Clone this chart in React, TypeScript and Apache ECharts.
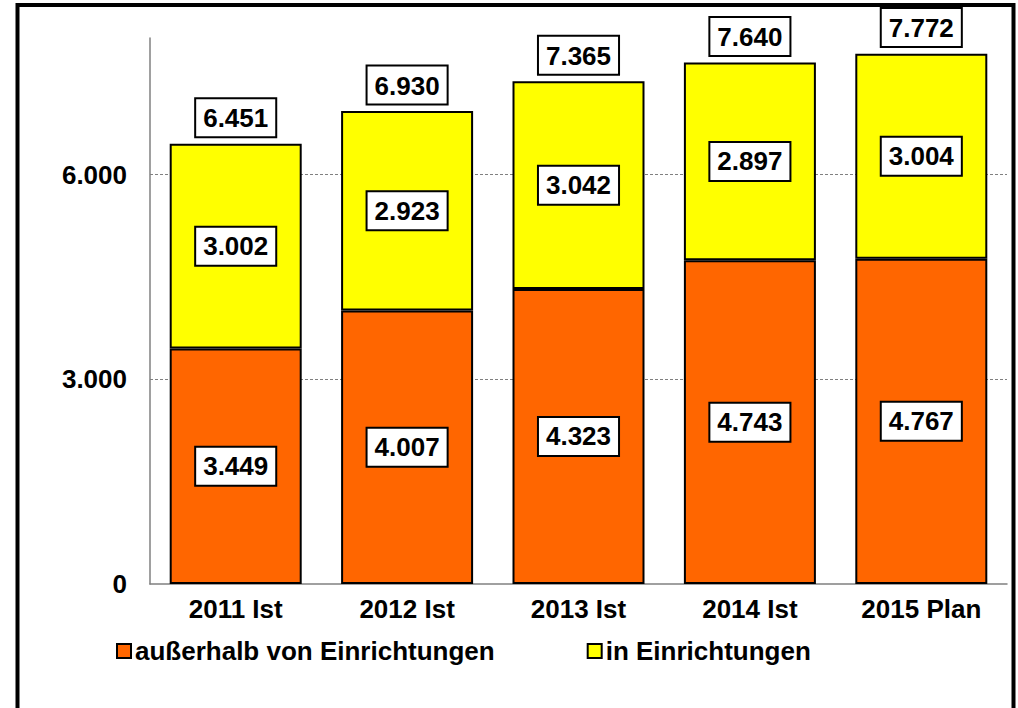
import React, { useEffect, useRef } from "react";
import * as echarts from "echarts";

const categories = ["2011 Ist", "2012 Ist", "2013 Ist", "2014 Ist", "2015 Plan"];
const ausserhalb = [3449, 4007, 4323, 4743, 4767];
const inEinrichtungen = [3002, 2923, 3042, 2897, 3004];
const totals = [6451, 6930, 7365, 7640, 7772];
const gridValues = [3000, 6000];

const FONT = "'Liberation Sans', Arial, sans-serif";
const FS = 26;

function fmt(v: number): string {
  if (v < 1000) return String(v);
  const th = Math.floor(v / 1000);
  const rest = String(v % 1000).padStart(3, "0");
  return th + "." + rest;
}

const boxLabel = {
  show: true,
  fontFamily: FONT,
  fontWeight: "bold" as const,
  fontSize: FS,
  color: "#000",
  backgroundColor: "#fff",
  borderColor: "#000",
  borderWidth: 2,
  padding: [6, 7, 5, 7],
  lineHeight: 26,
  formatter: (p: any) => fmt(p.value),
};

export default function App() {
  const ref = useRef<HTMLDivElement>(null);
  useEffect(() => {
    if (!ref.current) return;
    const chart = echarts.init(ref.current, null, { renderer: "svg" });
    chart.setOption({
      animation: false,
      backgroundColor: "#fff",
      textStyle: { fontFamily: FONT },
      grid: { left: 150, right: 11, top: 38, bottom: 124, containLabel: false },
      xAxis: {
        type: "category",
        data: categories,
        axisLine: { show: true, lineStyle: { color: "#808080", width: 1.5 } },
        axisTick: { show: false },
        axisLabel: {
          fontFamily: FONT,
          fontWeight: "bold",
          fontSize: FS,
          color: "#000",
          margin: 12,
          interval: 0,
        },
      },
      yAxis: {
        type: "value",
        min: 0,
        max: 8000,
        interval: 3000,
        axisLine: { show: true, lineStyle: { color: "#808080", width: 1.5 } },
        axisTick: { show: false },
        splitLine: { show: false },
        axisLabel: {
          fontFamily: FONT,
          fontWeight: "bold",
          fontSize: FS,
          color: "#000",
          margin: 23,
          formatter: (v: number) => (v === 8000 ? "" : fmt(v)),
        },
      },
      legend: {
        data: ["außerhalb von Einrichtungen", "in Einrichtungen"],
        bottom: 39,
        left: 111,
        icon: "rect",
        itemWidth: 14,
        itemHeight: 14,
        itemGap: 92,
        itemStyle: { borderColor: "#000", borderWidth: 2 },
        textStyle: { fontFamily: FONT, fontWeight: "bold", fontSize: FS, color: "#000", padding: [0, 0, 0, -1] },
      },
      series: [
        {
          name: "außerhalb von Einrichtungen",
          type: "bar",
          stack: "s",
          data: ausserhalb,
          barWidth: 132,
          itemStyle: { color: "#FF6600", borderColor: "#000", borderWidth: 2 },
          label: { ...boxLabel, position: "inside" },
          markLine: {
            silent: true,
            symbol: "none",
            z: 1,
            label: { show: false },
            lineStyle: { color: "#808080", width: 1.2, type: [3, 2] },
            data: gridValues.map((v) => ({ yAxis: v })),
          },
        },
        {
          name: "in Einrichtungen",
          type: "bar",
          stack: "s",
          data: inEinrichtungen,
          barWidth: 132,
          itemStyle: { color: "#FFFF00", borderColor: "#000", borderWidth: 2 },
          label: { ...boxLabel, position: "inside" },
        },
        {
          name: "Summe",
          type: "line",
          data: totals,
          symbol: "circle",
          symbolSize: 1,
          showSymbol: true,
          itemStyle: { color: "rgba(0,0,0,0)" },
          lineStyle: { color: "rgba(0,0,0,0)", width: 0 },
          z: 10,
          label: { ...boxLabel, position: "top", distance: 7 },
        },
      ],
      graphic: [
        {
          type: "rect",
          shape: { x: 17.5, y: 5, width: 996, height: 760 },
          style: { fill: "none", stroke: "#000", lineWidth: 4 },
          z: 100,
          silent: true,
        },
      ],
    });
    return () => chart.dispose();
  }, []);
  return (
    <div
      ref={ref}
      style={{ position: "fixed", left: 0, top: 0, width: 1018, height: 708 }}
    />
  );
}
